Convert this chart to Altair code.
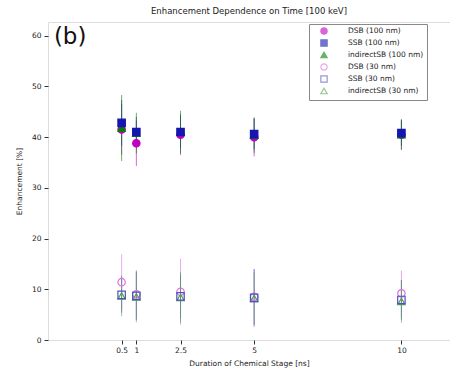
import altair as alt
import pandas as pd

times = [0.5, 1, 2.5, 5, 10]
tick_labels = [0.5, 1, 2.5, 5, 10]
series_names = ["DSB (100 nm)", "SSB (100 nm)", "indirectSB (100 nm)",
                "DSB (30 nm)", "SSB (30 nm)", "indirectSB (30 nm)"]

dsb100 = [41.5, 38.8, 40.5, 40.0, 40.5]
dsb100_err = [5.0, 4.5, 4.0, 3.8, 3.0]
ssb100 = [42.8, 41.0, 41.0, 40.6, 40.8]
ssb100_err = [4.5, 3.0, 3.2, 3.0, 2.5]
ind100 = [41.8, 40.8, 41.0, 40.4, 40.5]
ind100_err = [6.5, 4.0, 4.2, 3.5, 3.0]
dsb30 = [11.4, 9.0, 9.5, 8.5, 9.2]
dsb30_err = [5.5, 4.8, 6.5, 5.5, 4.5]
ssb30 = [8.9, 8.7, 8.6, 8.3, 7.9]
ssb30_err = [3.5, 4.8, 4.3, 5.7, 3.9]
ind30 = [8.7, 8.5, 8.4, 8.2, 7.6]
ind30_err = [4.0, 5.0, 5.0, 5.2, 4.2]

values = [dsb100, ssb100, ind100, dsb30, ssb30, ind30]
errors = [dsb100_err, ssb100_err, ind100_err, dsb30_err, ssb30_err, ind30_err]
draw_order = [0, 2, 1, 3, 5, 4]

stroke_colors = ["#c000c0", "#1515b0", "#008000", "#e070e0", "#5050c0", "#50a050"]
fill_colors = ["#c000c0", "#1515b0", "#008000", "transparent", "transparent", "transparent"]
shapes = ["circle", "square", "triangle-up", "circle", "square", "triangle-up"]

rows = []
for i, (name, vals, errs) in enumerate(zip(series_names, values, errors)):
    for t, v, e in zip(times, vals, errs):
        rows.append({"series": name, "time": t, "value": v,
                     "lo": v - e, "hi": v + e, "ord": draw_order[i]})
df = pd.DataFrame(rows)

xscale = alt.Scale(domain=[-2, 11.65], nice=False, zero=False)
yscale = alt.Scale(domain=[0, 62.7], nice=False, zero=False)
stroke_scale = alt.Scale(domain=series_names, range=stroke_colors)

xaxis = alt.Axis(values=tick_labels, labelExpr="'' + datum.value", grid=False,
                 domain=False, tickSize=4, tickColor="#333", labelFontSize=7.5,
                 labelColor="#222", title="Duration of Chemical Stage [ns]",
                 titleFontSize=7.5, titleFontWeight="normal", titleColor="#222",
                 titlePadding=6, labelPadding=2)
yaxis = alt.Axis(values=[0, 10, 20, 30, 40, 50, 60], grid=False, domain=False,
                 tickSize=4, tickColor="#333", labelFontSize=7.5, labelColor="#222",
                 title="Enhancement [%]", titleFontSize=7.5, titleFontWeight="normal",
                 titleColor="#222", titlePadding=8, labelPadding=3)

legend = alt.Legend(title=None, orient="none", legendX=261, legendY=2,
                    labelFontSize=7.5, labelColor="#222", symbolSize=40,
                    symbolStrokeWidth=1.2, rowPadding=0, padding=3,
                    symbolOffset=8, labelOffset=20,
                    strokeColor="#888", fillColor="white", labelLimit=200)

base = alt.Chart(df)

err = base.mark_rule(strokeWidth=1, opacity=0.6).encode(
    x=alt.X("time:Q", scale=xscale, axis=xaxis),
    y=alt.Y("lo:Q", scale=yscale, axis=yaxis),
    y2="hi:Q",
    stroke=alt.Stroke("series:N", scale=stroke_scale, legend=legend),
)

pts = base.mark_point(size=55, strokeWidth=1.2, opacity=1).encode(
    x=alt.X("time:Q", scale=xscale),
    y=alt.Y("value:Q", scale=yscale),
    stroke=alt.Stroke("series:N", scale=stroke_scale, legend=legend),
    fill=alt.Fill("series:N", scale=alt.Scale(domain=series_names, range=fill_colors), legend=legend),
    shape=alt.Shape("series:N", scale=alt.Scale(domain=series_names, range=shapes), legend=legend),
    order=alt.Order("ord:Q"),
)

label = alt.Chart(pd.DataFrame({"t": ["(b)"]})).mark_text(
    fontSize=23, align="left", baseline="top", color="#111"
).encode(x=alt.datum(-1.8, scale=xscale), y=alt.datum(62.0, scale=yscale), text="t:N")

chart = alt.layer(err, pts, label).properties(
    width=402, height=318,
    title=alt.TitleParams("Enhancement Dependence on Time [100 keV]", fontSize=8.5,
                          fontWeight="normal", color="#222", offset=7),
    padding={"left": 48, "top": 22, "right": 0, "bottom": 36},
    autosize=alt.AutoSizeParams(type="none"),
).configure_view(stroke="#333", strokeWidth=1).configure(font="DejaVu Sans")

chart.save("out.html", embed_options={"renderer": "svg", "actions": False})
